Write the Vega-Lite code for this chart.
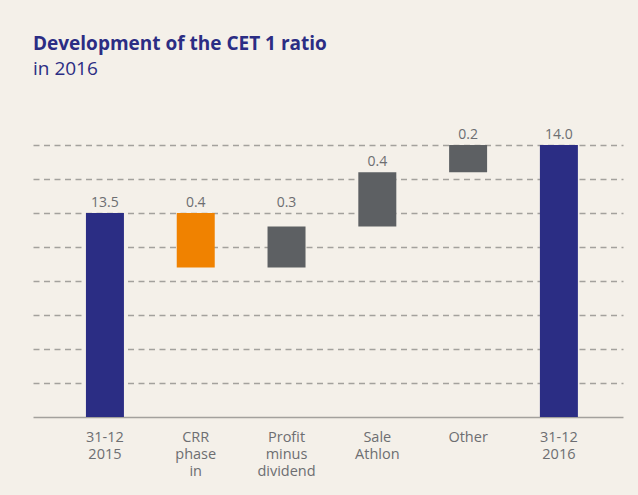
{
  "$schema": "https://vega.github.io/schema/vega-lite/v6.json",
  "width": 590,
  "height": 272,
  "autosize": "none",
  "padding": {"left": 33, "top": 145, "right": 15, "bottom": 78},
  "background": "#f4f0e9",
  "title": {
    "text": "Development of the CET 1 ratio",
    "subtitle": "in 2016",
    "anchor": "start",
    "frame": "group",
    "offset": 49,
    "font": "Open Sans",
    "fontSize": 19,
    "fontWeight": "bold",
    "color": "#2b2d84",
    "subtitleFont": "Open Sans",
    "subtitleFontSize": 19,
    "subtitleColor": "#2b2d84",
    "subtitlePadding": 6
  },
  "data": {
    "values": [
      {"cat": "31-12|2015", "low": 12.0, "high": 13.5, "labelLevel": 13.5, "label": "13.5", "kind": "total"},
      {"cat": "CRR|phase|in", "low": 13.1, "high": 13.5, "labelLevel": 13.5, "label": "0.4", "kind": "crr"},
      {"cat": "Profit|minus|dividend", "low": 13.1, "high": 13.4, "labelLevel": 13.5, "label": "0.3", "kind": "other"},
      {"cat": "Sale|Athlon", "low": 13.4, "high": 13.8, "labelLevel": 13.8, "label": "0.4", "kind": "other"},
      {"cat": "Other", "low": 13.8, "high": 14.0, "labelLevel": 14.0, "label": "0.2", "kind": "other"},
      {"cat": "31-12|2016", "low": 12.0, "high": 14.0, "labelLevel": 14.0, "label": "14.0", "kind": "total"}
    ]
  },
  "encoding": {
    "x": {
      "field": "cat",
      "type": "nominal",
      "sort": null,
      "title": null,
      "scale": {"paddingInner": 0.5815, "paddingOuter": 0.54, "align": 0.54},
      "axis": {
        "labelAngle": 0,
        "labelExpr": "split(datum.label, '|')",
        "labelFont": "Open Sans",
        "labelFontSize": 14.5,
        "labelColor": "#6d6e71",
        "labelLineHeight": 17,
        "labelPadding": 13,
        "ticks": false,
        "domainColor": "#a3a19d",
        "domainWidth": 1.5,
        "grid": false
      }
    }
  },
  "layer": [
    {
      "mark": {"type": "bar"},
      "encoding": {
        "y": {
          "field": "high",
          "type": "quantitative",
          "scale": {"domain": [12, 14], "nice": false, "zero": false},
          "axis": {
            "values": [12.25, 12.5, 12.75, 13, 13.25, 13.5, 13.75, 14],
            "labels": false,
            "ticks": false,
            "domain": false,
            "title": null,
            "grid": true,
            "gridColor": "#a3a19d",
            "gridDash": [6, 4.5],
            "gridWidth": 1.5,
            "gridOpacity": 1
          }
        },
        "y2": {"field": "low"},
        "color": {
          "field": "kind",
          "type": "nominal",
          "scale": {"domain": ["total", "crr", "other"], "range": ["#2b2d84", "#f08200", "#5d6063"]},
          "legend": null
        }
      }
    },
    {
      "mark": {"type": "text", "baseline": "alphabetic", "dy": -6, "font": "Open Sans", "fontSize": 14, "color": "#6d6e71"},
      "encoding": {
        "y": {
          "field": "labelLevel",
          "type": "quantitative",
          "axis": {
            "values": [12.25, 12.5, 12.75, 13, 13.25, 13.5, 13.75, 14],
            "labels": false,
            "ticks": false,
            "domain": false,
            "title": null,
            "grid": true,
            "gridColor": "#a3a19d",
            "gridDash": [6, 4.5],
            "gridWidth": 1.5,
            "gridOpacity": 1
          }
        },
        "text": {"field": "label"}
      }
    }
  ],
  "config": {
    "view": {"stroke": null}
  }
}
